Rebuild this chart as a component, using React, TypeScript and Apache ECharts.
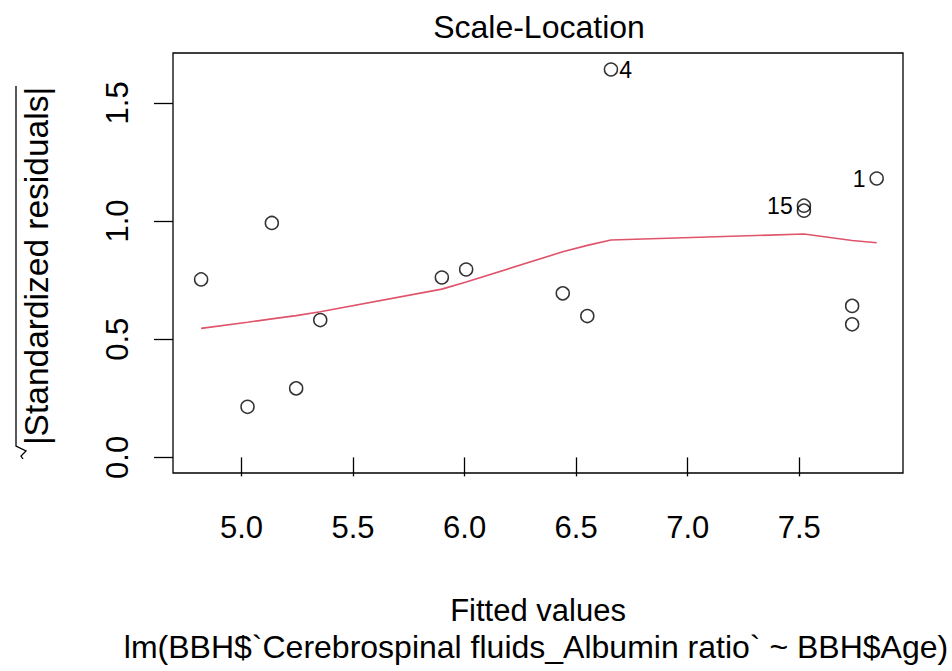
import React, { useEffect, useRef } from "react";
import * as echarts from "echarts";

// Fitted values and sqrt(|standardized residuals|) for each observation (sorted by fitted value)
const fitted = [4.819, 5.027, 5.136, 5.245, 5.353, 5.898, 6.007, 6.44, 6.55, 6.656, 7.521, 7.521, 7.737, 7.737, 7.847];
const sqrtAbsStdResid = [0.753, 0.214, 0.992, 0.292, 0.581, 0.761, 0.795, 0.694, 0.598, 1.641, 1.065, 1.044, 0.641, 0.563, 1.18];
// Observation ids shown next to the most extreme points
const pointIds = ["", "", "", "", "", "", "", "", "", "4", "15", "", "", "", "1"];
const labelSides = ["", "", "", "", "", "", "", "", "", "right", "left", "", "", "", "left"];

// Smoother through the points
const smoothFitted = [4.819, 5.027, 5.136, 5.245, 5.353, 5.898, 6.007, 6.44, 6.55, 6.656, 7.521, 7.737, 7.847];
const smoothValues = [0.546, 0.572, 0.586, 0.6, 0.616, 0.712, 0.742, 0.87, 0.897, 0.92, 0.945, 0.918, 0.908];

const xTicks = [5.0, 5.5, 6.0, 6.5, 7.0, 7.5];
const yTicks = [0.0, 0.5, 1.0, 1.5];

const FONT = "'Liberation Sans', Arial, sans-serif";

export default function App() {
  const ref = useRef<HTMLDivElement>(null);

  useEffect(() => {
    if (!ref.current) return;
    const chart = echarts.init(ref.current, null, { renderer: "svg" });

    const scatterData = fitted.map((x, i) => {
      const item: any = { value: [x, sqrtAbsStdResid[i]] };
      if (pointIds[i]) {
        item.label = {
          show: true,
          formatter: pointIds[i],
          position: labelSides[i],
          distance: labelSides[i] === "left" ? 4 : 1,
          fontSize: 23,
          fontFamily: FONT,
          color: "#000",
          opacity: 1,
        };
      }
      return item;
    });

    const option: any = {
      animation: false,
      backgroundColor: "#fff",
      grid: {
        left: 173,
        top: 53,
        width: 730,
        height: 420,
        show: true,
        borderColor: "#000",
        borderWidth: 1.3,
        backgroundColor: "transparent",
      },
      xAxis: {
        type: "value",
        min: 4.693,
        max: 7.965,
        axisLine: { show: false },
        splitLine: { show: false },
        axisTick: {
          show: true,
          length: 19,
          customValues: xTicks,
          lineStyle: { color: "#000", width: 1.3 },
        },
        axisLabel: {
          customValues: xTicks,
          formatter: (v: number) => v.toFixed(1),
          margin: 39,
          fontSize: 31,
          fontFamily: FONT,
          color: "#000",
        },
      },
      yAxis: {
        type: "value",
        min: -0.066,
        max: 1.711,
        axisLine: { show: false },
        splitLine: { show: false },
        axisTick: {
          show: true,
          length: 19,
          customValues: yTicks,
          lineStyle: { color: "#000", width: 1.3 },
        },
        axisLabel: {
          customValues: yTicks,
          formatter: (v: number) => v.toFixed(1),
          rotate: 90,
          margin: 40,
          fontSize: 31,
          fontFamily: FONT,
          color: "#000",
        },
      },
      series: [
        {
          type: "scatter",
          data: scatterData,
          symbol: "circle",
          symbolSize: 13,
          itemStyle: { color: "transparent", borderColor: "#000", borderWidth: 1.5 },
          emphasis: { disabled: true },
          z: 2,
        },
        {
          type: "line",
          data: smoothFitted.map((x, i) => [x, smoothValues[i]]),
          showSymbol: false,
          symbol: "none",
          lineStyle: { color: "#DF536B", width: 1.6 },
          z: 3,
        },
      ],
      graphic: [
        {
          type: "text",
          x: 539,
          y: 27,
          style: {
            text: "Scale-Location",
            fontSize: 32,
            fontFamily: FONT,
            fill: "#000",
            align: "center",
            verticalAlign: "middle",
          },
        },
        {
          type: "text",
          x: 538,
          y: 610,
          style: {
            text: "Fitted values",
            fontSize: 31,
            fontFamily: FONT,
            fill: "#000",
            align: "center",
            verticalAlign: "middle",
          },
        },
        {
          type: "text",
          x: 536,
          y: 647,
          style: {
            text: "lm(BBH$`Cerebrospinal fluids_Albumin ratio` ~ BBH$Age)",
            fontSize: 32,
            fontFamily: FONT,
            fill: "#000",
            align: "center",
            verticalAlign: "middle",
          },
        },
        {
          type: "text",
          x: 36,
          y: 266,
          rotation: Math.PI / 2,
          style: {
            text: "|Standardized residuals|",
            fontSize: 33.5,
            fontFamily: FONT,
            fill: "#000",
            align: "center",
            verticalAlign: "middle",
          },
        },
        {
          // radical sign over the y-axis title
          type: "polyline",
          shape: {
            points: [
              [16, 86],
              [16, 446],
              [26, 451],
              [21, 456],
              [23, 459],
            ],
          },
          style: { stroke: "#000", lineWidth: 1.3, fill: "none" },
        },
      ],
    };

    chart.setOption(option);
    return () => chart.dispose();
  }, []);

  return (
    <div
      ref={ref}
      style={{ position: "fixed", left: 0, top: 0, width: 952, height: 671 }}
    />
  );
}
